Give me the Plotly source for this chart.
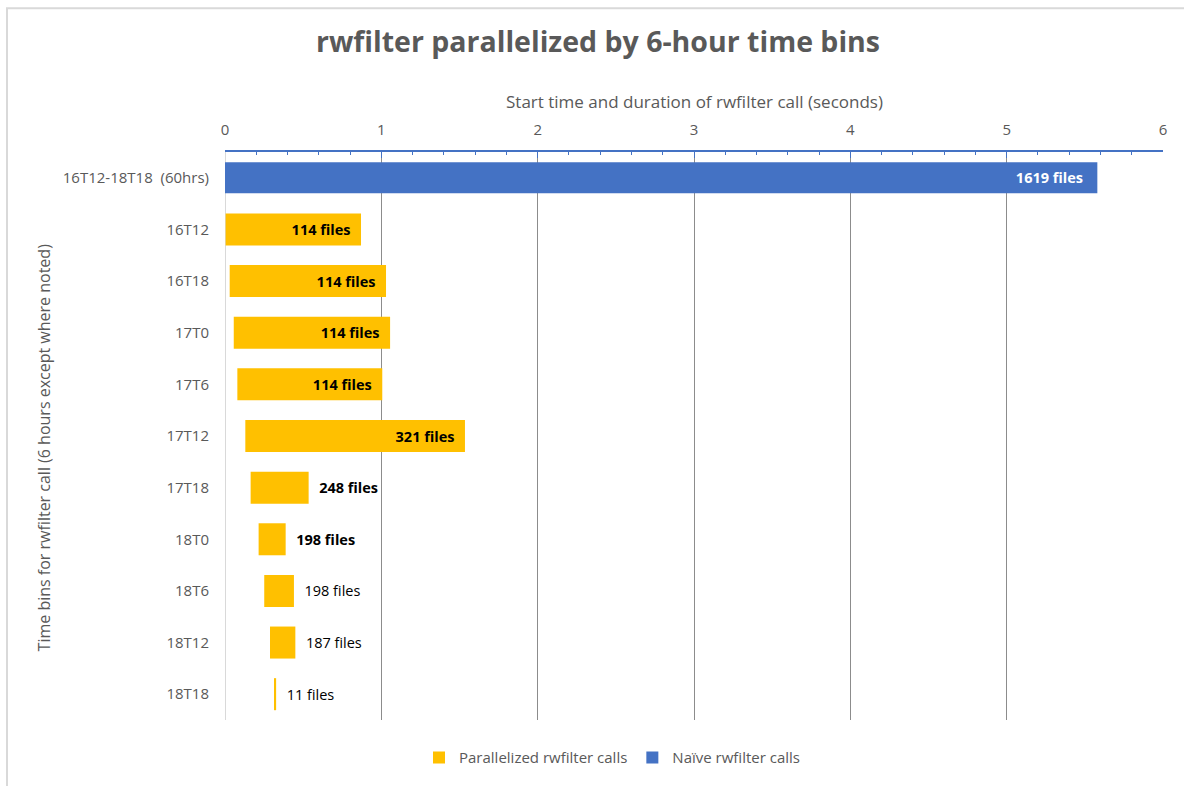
import plotly.graph_objects as go

# Time bins (top to bottom)
naive_bin = "16T12-18T18\u00a0\u00a0(60hrs)"
parallel_bins = ["16T12", "16T18", "17T0", "17T6", "17T12",
                 "17T18", "18T0", "18T6", "18T12", "18T18"]

# Naive single call: start time, duration (s), files read
naive_start = [0.0]
naive_duration = [5.58]
naive_files = [1619]

# Parallelized calls: start time, duration (s), files read
parallel_start = [0.004, 0.03, 0.056, 0.079, 0.13, 0.164, 0.215, 0.251, 0.288, 0.315]
parallel_duration = [0.866, 1.0, 1.0, 0.927, 1.405, 0.371, 0.173, 0.19, 0.162, 0.012]
parallel_files = [114, 114, 114, 114, 321, 248, 198, 198, 187, 11]

x_ticks = [0, 1, 2, 3, 4, 5, 6]

FONT = "'Open Sans', 'Noto Sans', sans-serif"
GREY = "#595959"
YELLOW = "#FFC000"
BLUE = "#4472C4"
NB = "\u00a0"

W, H = 1184, 786
ML, MR, MT, MB = 225, 21, 152, 61
PW, PH = W - ML - MR, H - MT - MB


def px_x(px):
    return (px - ML) / PW


def px_y(py):
    return (H - MB - py) / PH


# long bars carry their label inside the bar end, short ones just past it
inside = [d >= 0.6 for d in parallel_duration]
bold = [True, True, True, True, True, True, True, False, False, False]
par_text = []
par_pos = []
for f, ins, b in zip(parallel_files, inside, bold):
    label = f"{f} files"
    if b:
        label = f"<b>{label}</b>"
    label = label + NB * 2 if ins else NB * 2 + label
    par_text.append(label)
    par_pos.append("inside" if ins else "outside")

fig = go.Figure()

fig.add_trace(go.Bar(
    name="Parallelized rwfilter calls",
    orientation="h",
    y=parallel_bins,
    x=parallel_duration,
    base=parallel_start,
    marker=dict(color=YELLOW, line=dict(width=0)),
    width=0.62,
    text=par_text,
    textposition=par_pos,
    insidetextanchor="end",
    textfont=dict(family=FONT, size=14.5, color="#000000"),
    cliponaxis=False,
    hoverinfo="skip",
))

fig.add_trace(go.Bar(
    name="Naïve rwfilter calls",
    orientation="h",
    y=[naive_bin],
    x=naive_duration,
    base=naive_start,
    marker=dict(color=BLUE, line=dict(width=0)),
    width=0.6,
    text=[f"<b>{f} files</b>" + NB * 3 for f in naive_files],
    textposition="inside",
    insidetextanchor="end",
    textfont=dict(family=FONT, size=14.5, color="#FFFFFF"),
    hoverinfo="skip",
))

fig.update_layout(
    width=W, height=H,
    margin=dict(l=ML, r=MR, t=MT, b=MB),
    paper_bgcolor="white",
    plot_bgcolor="white",
    font=dict(family=FONT, color=GREY, size=15),
    barmode="overlay",
    showlegend=True,
    legend=dict(
        orientation="h",
        x=px_x(612), xanchor="center",
        y=px_y(763), yanchor="middle",
        traceorder="normal",
        font=dict(size=15, color=GREY),
        itemwidth=30,
    ),
    title=dict(
        text="<b>rwfilter parallelized by 6-hour time bins</b>",
        x=598 / W, xanchor="center",
        y=1 - 42 / H, yanchor="middle",
        font=dict(size=28.5, color=GREY, family=FONT),
    ),
    xaxis=dict(
        side="top",
        range=[0, 6],
        tickvals=x_ticks,
        showgrid=True,
        gridcolor="#8c8c8c",
        gridwidth=1,
        zeroline=True,
        zerolinecolor="#d9d9d9",
        zerolinewidth=1,
        showline=True,
        linecolor=BLUE,
        linewidth=1.5,
        ticks="inside",
        ticklen=6,
        tickcolor=BLUE,
        tickwidth=1,
        ticklabelstandoff=9,
        tickfont=dict(size=15, color=GREY),
        minor=dict(dtick=0.2, ticks="inside", ticklen=3, tickcolor=BLUE, showgrid=False),
        fixedrange=True,
    ),
    yaxis=dict(
        type="category",
        categoryorder="array",
        categoryarray=[naive_bin] + parallel_bins,
        autorange="reversed",
        showgrid=False,
        zeroline=False,
        showline=False,
        ticks="",
        ticklabelstandoff=15,
        tickfont=dict(size=15, color=GREY),
        fixedrange=True,
    ),
    annotations=[
        dict(text="Start time and duration of rwfilter call (seconds)",
             xref="paper", yref="paper", x=px_x(694), y=px_y(101),
             xanchor="center", yanchor="middle", showarrow=False,
             font=dict(size=17, color=GREY)),
        dict(text="Time bins for rwfilter call (6 hours except where noted)",
             xref="paper", yref="paper", x=px_x(44), y=px_y(450),
             xanchor="center", yanchor="middle", showarrow=False, textangle=-90,
             font=dict(size=16, color=GREY)),
    ],
    shapes=[
        dict(type="rect", xref="paper", yref="paper",
             x0=px_x(7), x1=px_x(1195), y0=px_y(800), y1=px_y(7),
             line=dict(color="#d9d9d9", width=2), fillcolor="rgba(0,0,0,0)",
             layer="below"),
    ],
)

fig.write_html("out.html")
